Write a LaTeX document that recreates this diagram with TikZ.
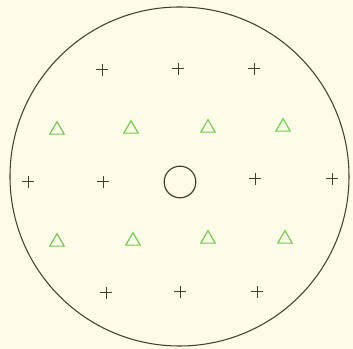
\documentclass[tikz,border=0pt]{standalone}
\usepackage{tikz}
\usetikzlibrary{shapes.geometric, shapes.misc}
\definecolor{paper}{RGB}{254,252,232}
\definecolor{ink}{RGB}{70,60,50}
\definecolor{markgreen}{RGB}{110,204,76}

\begin{document}
\begin{tikzpicture}[
  x=0.03cm, y=-0.03cm,
  plate/.style={draw=ink, circle, line width=0.9pt, minimum size=10.17cm, inner sep=0pt},
  hole/.style={draw=ink, circle, line width=1pt, minimum size=0.95cm, inner sep=0pt},
  pin/.style={draw=ink, cross out, rotate=45, line width=0.85pt, minimum size=0.23cm, inner sep=0pt},
  tri/.style={draw=markgreen, regular polygon, regular polygon sides=3, line width=1pt,
              minimum size=0.5cm, inner sep=0pt}
]
  \fill[paper] (0,0) rectangle (353,349);
  \useasboundingbox (0,0) rectangle (353,349);
  \node[plate] (rim) at (179.5,176.5) {};
  \node[hole] (hub) at (180,182) {};
  % plus marks
  \node[pin] (p1) at (102,70) {};
  \node[pin] (p2) at (178,69) {};
  \node[pin] (p3) at (254,69) {};
  \node[pin] (p4) at (28,182) {};
  \node[pin] (p5) at (103,182) {};
  \node[pin] (p6) at (255,179) {};
  \node[pin] (p7) at (332,179) {};
  \node[pin] (p8) at (106,293) {};
  \node[pin] (p9) at (180,292) {};
  \node[pin] (p10) at (257,292) {};
  % triangles
  \node[tri] (t1) at (57,130) {};
  \node[tri] (t2) at (131,129) {};
  \node[tri] (t3) at (208,128) {};
  \node[tri] (t4) at (283,127) {};
  \node[tri] (t5) at (57,242) {};
  \node[tri] (t6) at (133,241) {};
  \node[tri] (t7) at (208,239) {};
  \node[tri] (t8) at (285,239) {};
\end{tikzpicture}
\end{document}
